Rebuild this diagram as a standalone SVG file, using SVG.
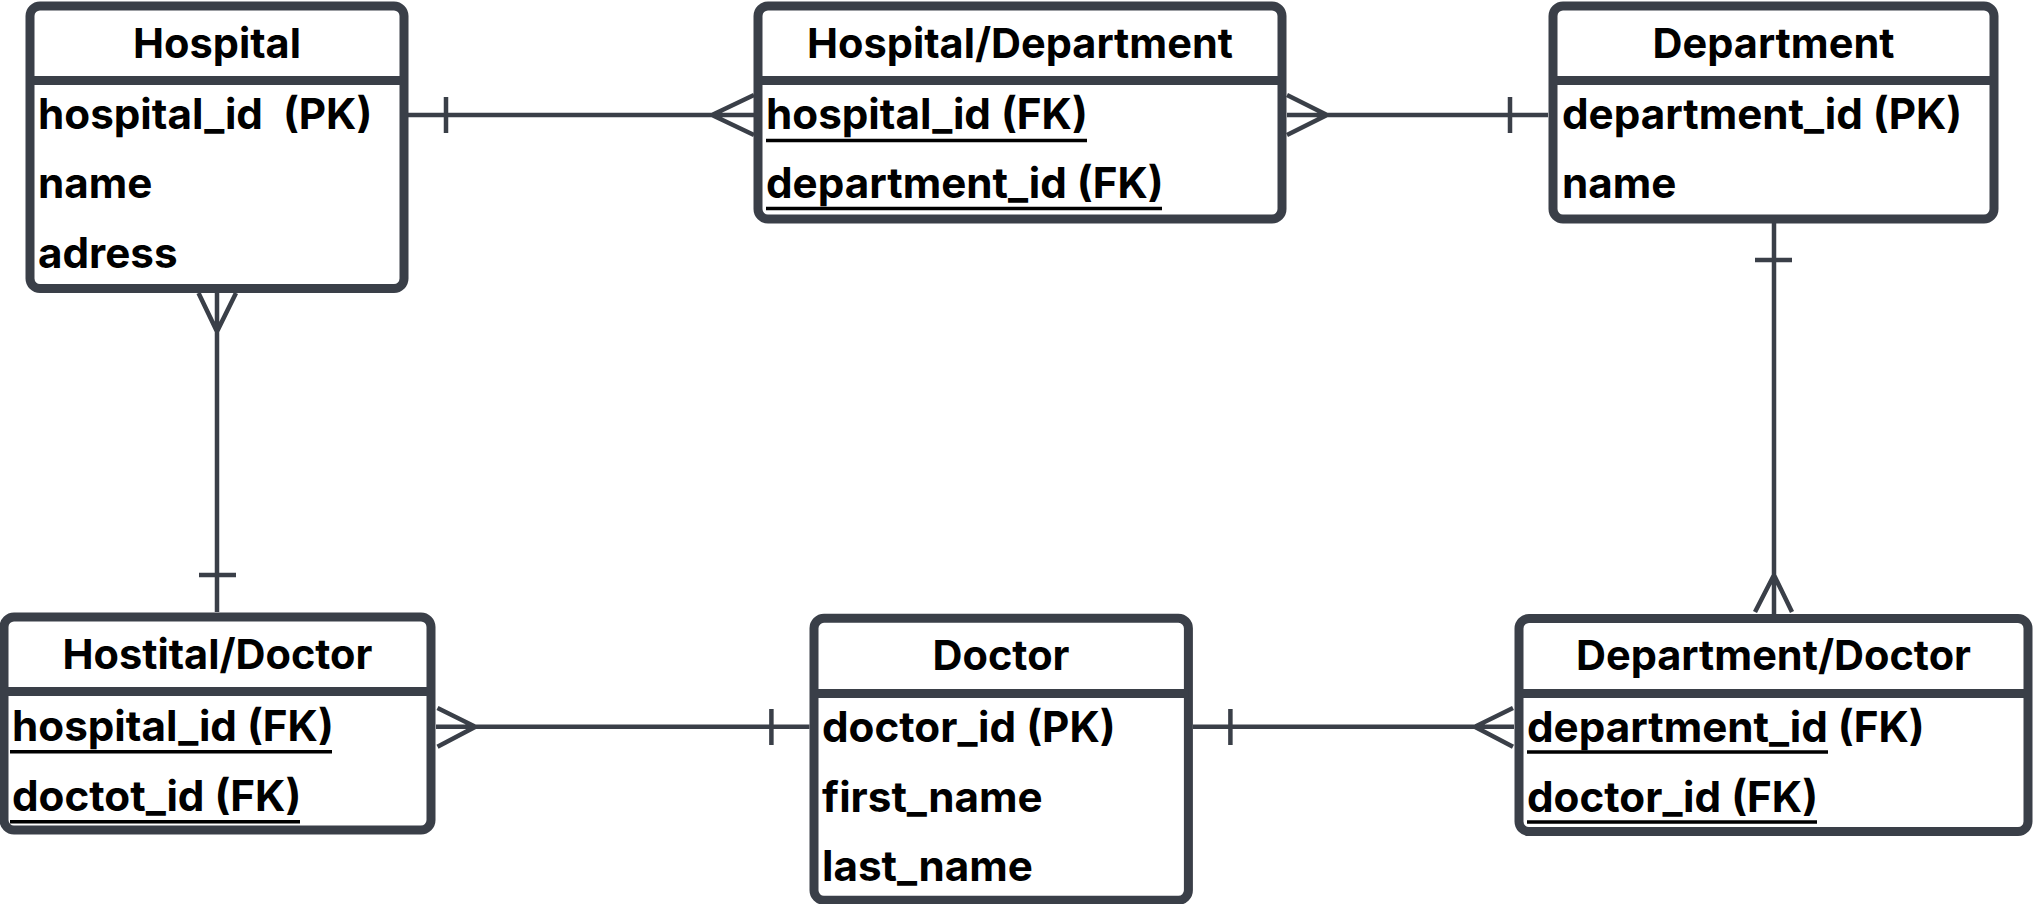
<svg xmlns="http://www.w3.org/2000/svg" width="2034" height="904" viewBox="0 0 2034 904">
<style>
.box{fill:#ffffff;stroke:#3a3f48;stroke-width:9}
.sep{stroke:#3a3f48;stroke-width:9}
.hd{font-family:Inter,"Liberation Sans",sans-serif;font-weight:700;font-size:41.5px;fill:#000;text-anchor:middle}
.tx{font-family:Inter,"Liberation Sans",sans-serif;font-weight:700;font-size:42.2px;fill:#000}
.ul{stroke:#000;stroke-width:3.5}
.cn{fill:none;stroke:#3a3f48;stroke-width:4.5}
</style>
<rect width="2034" height="904" fill="#ffffff"/>
<g id="connectors">
  <path class="cn" d="M408 115H754M446 97V133M754 95L712 115L754 135"/>
  <path class="cn" d="M1287 115H1548M1510 97V133M1287 95L1327 115L1287 135"/>
  <path class="cn" d="M1774 223V614M1755 260H1792M1755 612L1774 575L1792 612"/>
  <path class="cn" d="M217 293V612M199 575H236M198.5 293L217 331.5L236 293"/>
  <path class="cn" d="M436 726.7H809.5M771.4 709V745M437.5 708L475.4 726.7L437.5 746.7"/>
  <path class="cn" d="M1193 726.7H1514M1230.4 709V745M1513 708L1474.8 726.7L1513 746.7"/>
</g>
<g id="hospital">
  <rect class="box" x="30" y="6" width="374" height="282.5" rx="10"/>
  <line class="sep" x1="30" y1="80.5" x2="404" y2="80.5"/>
  <text class="hd" x="217" y="57.5">Hospital</text>
  <text class="tx" x="38" y="129" xml:space="preserve">hospital_id  (PK)</text>
  <text class="tx" x="38" y="198">name</text>
  <text class="tx" x="38" y="268">adress</text>
</g>
<g id="hospital-department">
  <rect class="box" x="758" y="6" width="524" height="213" rx="10"/>
  <line class="sep" x1="758" y1="80.5" x2="1282" y2="80.5"/>
  <text class="hd" x="1020" y="57.5">Hospital/Department</text>
  <text class="tx" x="766" y="129">hospital_id (FK)</text>
  <line class="ul" x1="766" y1="140.5" x2="1087" y2="140.5"/>
  <text class="tx" x="766" y="198">department_id (FK)</text>
  <line class="ul" x1="766" y1="208.5" x2="1162" y2="208.5"/>
</g>
<g id="department">
  <rect class="box" x="1553" y="6" width="441" height="213" rx="10"/>
  <line class="sep" x1="1553" y1="80.5" x2="1994" y2="80.5"/>
  <text class="hd" x="1773.5" y="57.5">Department</text>
  <text class="tx" x="1562" y="129">department_id (PK)</text>
  <text class="tx" x="1562" y="198">name</text>
</g>
<g id="hospital-doctor">
  <rect class="box" x="4" y="617" width="427" height="213" rx="10"/>
  <line class="sep" x1="4" y1="691.5" x2="431" y2="691.5"/>
  <text class="hd" x="217.5" y="668.5">Hostital/Doctor</text>
  <text class="tx" x="12" y="741">hospital_id (FK)</text>
  <line class="ul" x1="10" y1="751.7" x2="332" y2="751.7"/>
  <text class="tx" x="12" y="811">doctot_id (FK)</text>
  <line class="ul" x1="10" y1="821.7" x2="300" y2="821.7"/>
</g>
<g id="doctor">
  <rect class="box" x="814" y="618.3" width="374.4" height="282" rx="10"/>
  <line class="sep" x1="814" y1="693.5" x2="1188.4" y2="693.5"/>
  <text class="hd" x="1001" y="669.5">Doctor</text>
  <text class="tx" x="822" y="741.5">doctor_id (PK)</text>
  <text class="tx" x="822" y="811.5">first_name</text>
  <text class="tx" x="822" y="880.5">last_name</text>
</g>
<g id="department-doctor">
  <rect class="box" x="1519" y="618.5" width="509" height="213" rx="10"/>
  <line class="sep" x1="1519" y1="693.5" x2="2028" y2="693.5"/>
  <text class="hd" x="1773.5" y="670">Department/Doctor</text>
  <text class="tx" x="1527" y="741.5">department_id (FK)</text>
  <line class="ul" x1="1527" y1="752" x2="1828" y2="752"/>
  <text class="tx" x="1527" y="811.5">doctor_id (FK)</text>
  <line class="ul" x1="1527" y1="822" x2="1817" y2="822"/>
</g>
</svg>
